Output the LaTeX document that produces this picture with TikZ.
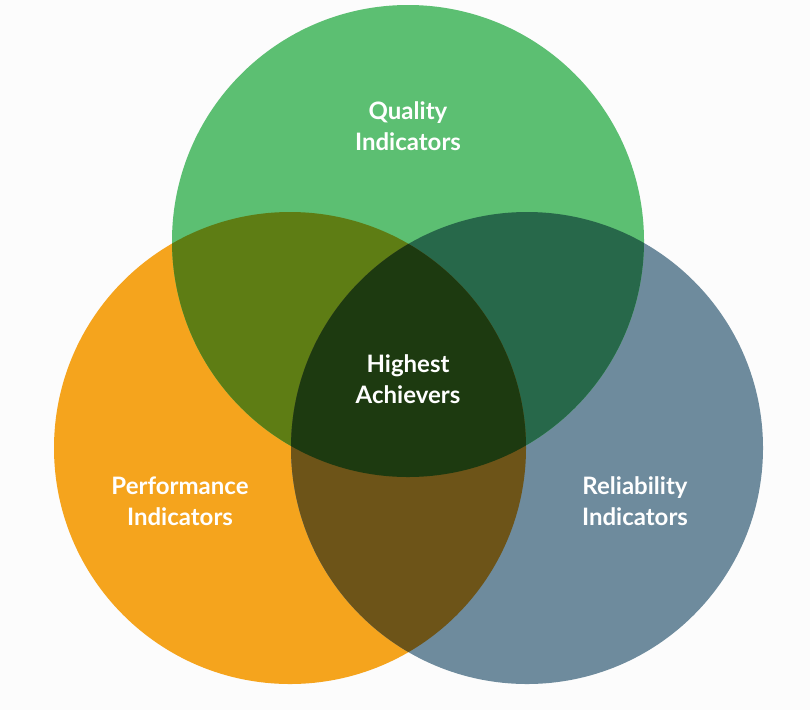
\documentclass[tikz,border=0pt]{standalone}
\usepackage{fontspec}
\setmainfont{Lato}
\definecolor{cq}{HTML}{5CBF72}
\definecolor{cp}{HTML}{F5A41D}
\definecolor{cr}{HTML}{6E8B9D}
\definecolor{cqp}{HTML}{5E7D14}
\definecolor{cqr}{HTML}{27684A}
\definecolor{cpr}{HTML}{6D5418}
\definecolor{call}{HTML}{1D3A10}
\tikzset{lbl/.style={text=white,font=\fontsize{24}{31}\selectfont\bfseries,align=center}}
\begin{document}
\begin{tikzpicture}[x=1pt,y=-1pt]
\useasboundingbox (0,0) rectangle (810,710);
\fill[white!98!gray] (0,0) rectangle (810,710);
\def\Q{(408,241) circle (236)}
\def\P{(290,448) circle (236)}
\def\R{(527,448) circle (236)}
\fill[cp] \P;
\fill[cr] \R;
\fill[cq] \Q;
\begin{scope}\clip \Q; \fill[cqp] \P; \fill[cqr] \R; \end{scope}
\begin{scope}\clip \P; \fill[cpr] \R; \end{scope}
\begin{scope}\clip \Q; \clip \P; \fill[call] \R; \end{scope}
\node[lbl] (q) at (408,126) {Quality\\Indicators};
\node[lbl] (p) at (180,501) {Performance\\Indicators};
\node[lbl] (r) at (635,501) {Reliability\\Indicators};
\node[lbl] (h) at (408,379) {Highest\\Achievers};
\end{tikzpicture}
\end{document}
